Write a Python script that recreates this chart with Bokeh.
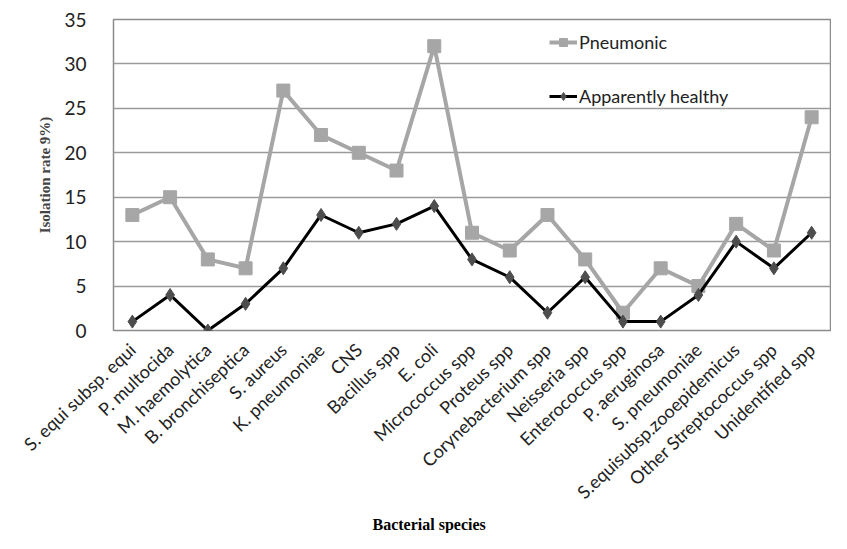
from bokeh.plotting import figure
from bokeh.models import Legend, LegendItem, Title, FixedTicker, Range1d
from bokeh.embed import file_html
from bokeh.resources import INLINE

species = ["S. equi subsp. equi", "P. multocida", "M. haemolytica", "B. bronchiseptica",
           "S. aureus", "K. pneumoniae", "CNS", "Bacillus spp", "E. coli", "Micrococcus spp",
           "Proteus spp", "Corynebacterium spp", "Neisseria spp", "Enterococcus spp",
           "P. aeruginosa", "S. pneumoniae", "S.equisubsp.zooepidemicus",
           "Other Streptococcus spp", "Unidentified spp"]
pneumonic = [13, 15, 8, 7, 27, 22, 20, 18, 32, 11, 9, 13, 8, 2, 7, 5, 12, 9, 24]
healthy = [1, 4, 0, 3, 7, 13, 11, 12, 14, 8, 6, 2, 6, 1, 1, 4, 10, 7, 11]
y_ticks = [0, 5, 10, 15, 20, 25, 30, 35]

p = figure(x_range=species, y_range=Range1d(0, 35), width=831, height=533,
           output_backend="svg", toolbar_location=None,
           min_border_left=113, min_border_right=1, min_border_top=19, min_border_bottom=203)

p.outline_line_color = "#8c8c8c"
p.outline_line_width = 1.5
p.xgrid.grid_line_color = None
p.ygrid.grid_line_color = "#9a9a9a"
p.ygrid.grid_line_width = 1.3
p.yaxis.ticker = FixedTicker(ticks=y_ticks)

for ax in (p.xaxis, p.yaxis):
    ax.axis_line_color = None
    ax.major_tick_line_color = None
    ax.minor_tick_line_color = None
    ax.major_label_text_font = "Lato"
    ax.major_label_text_color = "#222222"

p.yaxis.major_label_text_font_size = "19px"
p.yaxis.major_label_standoff = 21
p.yaxis.axis_label = "Isolation rate 9%)"
p.yaxis.axis_label_text_font = "Liberation Serif"
p.yaxis.axis_label_text_font_style = "bold"
p.yaxis.axis_label_text_font_size = "15px"
p.yaxis.axis_label_standoff = 8

p.xaxis.major_label_orientation = 0.76
p.xaxis.major_label_text_font_size = "18px"
p.xaxis.major_label_standoff = 10

l1 = p.line(species, pneumonic, line_color="#a6a6a6", line_width=4)
s1 = p.scatter(species, pneumonic, marker="square", size=13, color="#a6a6a6")
l2 = p.line(species, healthy, line_color="black", line_width=3)
s2 = p.scatter(species, healthy, marker="diamond", size=13, color="#4d4d4d")

legend = Legend(items=[LegendItem(label="Pneumonic", renderers=[l1, s1]),
                       LegendItem(label="Apparently healthy", renderers=[l2, s2])],
                location=(436, 223), background_fill_alpha=0, border_line_color=None,
                label_text_font="Lato", label_text_font_size="18px", label_text_color="#222222",
                glyph_width=28, label_standoff=2, spacing=32, padding=10)
p.add_layout(legend)

p.add_layout(Title(text="Bacterial species", align="left", offset=259,
                   text_font="Liberation Serif", text_font_style="bold", text_font_size="16px",
                   text_color="black", standoff=0), "below")

open("out.html", "w").write(file_html(p, INLINE))
